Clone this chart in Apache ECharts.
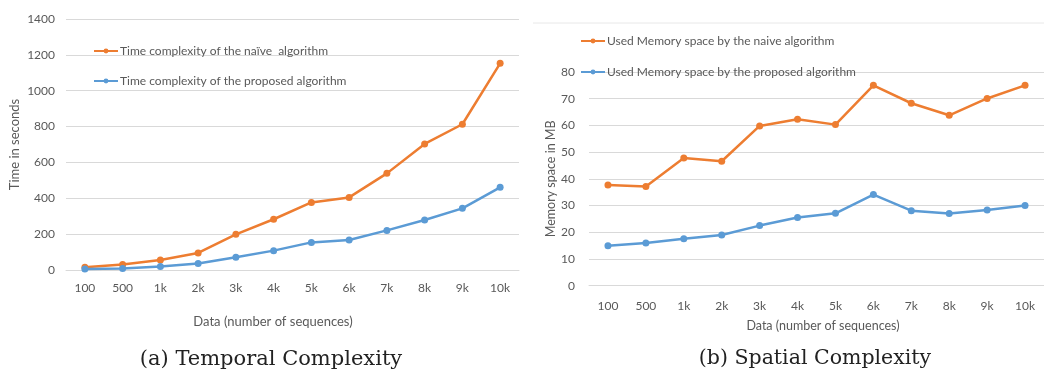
<!DOCTYPE html>
<html><head><meta charset="utf-8">
<script src="https://cdn.jsdelivr.net/npm/echarts@6/dist/echarts.min.js"></script>
<style>html,body{margin:0;padding:0;background:#fff}#c{width:1044px;height:370px}</style>
</head><body><div id="c"></div>
<script>
const categories = ['100','500','1k','2k','3k','4k','5k','6k','7k','8k','9k','10k'];
const timeNaive = [15, 31, 56, 95, 199, 283, 377, 405, 539, 703, 813, 1153];
const timeProposed = [5, 8, 19, 36, 71, 108, 154, 167, 221, 279, 344, 461];
const memNaive = [37.7, 37.1, 47.8, 46.6, 59.8, 62.3, 60.3, 75, 68.3, 63.8, 70.1, 75];
const memProposed = [15.0, 16.0, 17.6, 19.0, 22.5, 25.5, 27.1, 34.1, 28.1, 27.0, 28.3, 30.0];
const timeTicks = {min: 0, max: 1400, interval: 200};
const memTicks = {min: 0, max: 80, interval: 10};

const ORANGE = '#ED7D31', BLUE = '#5B9BD5', TXT = '#595959', GRID = '#D9D9D9';
const FONT = 'Lato';
const chart = echarts.init(document.getElementById('c'));
function xAx(gi, labelMargin, nameGap, pad, fs) {
  return {type: 'category', gridIndex: gi, data: categories, boundaryGap: true,
    axisLine: {show: true, lineStyle: {color: GRID, width: 1}}, axisTick: {show: false},
    axisLabel: {color: TXT, fontSize: 12, fontFamily: FONT, margin: labelMargin},
    name: 'Data (number of sequences)', nameLocation: 'middle', nameGap: nameGap,
    nameTextStyle: {color: TXT, fontSize: fs, fontFamily: FONT, padding: pad}};
}
function yAx(gi, t, name, labelMargin, nameGap, fs) {
  return {type: 'value', gridIndex: gi, min: t.min, max: t.max, interval: t.interval,
    axisLine: {show: false}, axisTick: {show: false},
    splitLine: {lineStyle: {color: GRID, width: 1}},
    axisLabel: {color: TXT, fontSize: 12, fontFamily: FONT, margin: labelMargin, formatter: v => String(v)},
    name: name, nameLocation: 'middle', nameGap: nameGap,
    nameTextStyle: {color: TXT, fontSize: fs, fontFamily: FONT}};
}
function ser(name, data, color, xi) {
  return {name: name, type: 'line', data: data, xAxisIndex: xi, yAxisIndex: xi,
    symbol: 'circle', symbolSize: 7, lineStyle: {color: color, width: 2.5},
    itemStyle: {color: color}, animation: false};
}
const legendText = {color: TXT, fontSize: 12, fontFamily: FONT, lineHeight: 14, padding: [0,0,0,-3]};
const option = {
  animation: false,
  grid: [
    {left: 66, top: 19, width: 453, height: 251},
    {left: 589, top: 72, width: 461, height: 213.7}
  ],
  xAxis: [xAx(0, 12, 45, [0, 39, 0, 0], 13), xAx(1, 14, 34, [0, 0, 0, 13], 12.5)],
  yAxis: [yAx(0, timeTicks, 'Time in seconds', 11, 45, 13), yAx(1, memTicks, 'Memory space in MB', 14, 30, 12.5)],
  legend: [
    {left: 93, top: 44, padding: 0, orient: 'vertical', itemWidth: 24, itemHeight: 6, itemGap: 16,
      data: ['Time complexity of the naïve  algorithm', 'Time complexity of the proposed algorithm'],
      textStyle: legendText},
    {left: 580, top: 34, padding: 0, orient: 'vertical', itemWidth: 24, itemHeight: 6, itemGap: 17,
      data: ['Used Memory space by the naive algorithm', 'Used Memory space by the proposed algorithm'],
      textStyle: legendText}
  ],
  title: [
    {text: '(a) Temporal Complexity', left: 266, top: 344, textAlign: 'center',
      textStyle: {fontFamily: 'DejaVu Serif', fontWeight: 'normal', fontSize: 21, color: '#222'}},
    {text: '(b) Spatial Complexity', left: 810, top: 343, textAlign: 'center',
      textStyle: {fontFamily: 'DejaVu Serif', fontWeight: 'normal', fontSize: 20.5, color: '#222'}}
  ],
  graphic: [{type: 'line', shape: {x1: 533, y1: 23, x2: 1044, y2: 23}, style: {stroke: '#E8E8E8', lineWidth: 1}}],
  series: [
    ser('Time complexity of the naïve  algorithm', timeNaive, ORANGE, 0),
    ser('Time complexity of the proposed algorithm', timeProposed, BLUE, 0),
    ser('Used Memory space by the naive algorithm', memNaive, ORANGE, 1),
    ser('Used Memory space by the proposed algorithm', memProposed, BLUE, 1)
  ]
};
chart.setOption(option);
</script></body></html>
